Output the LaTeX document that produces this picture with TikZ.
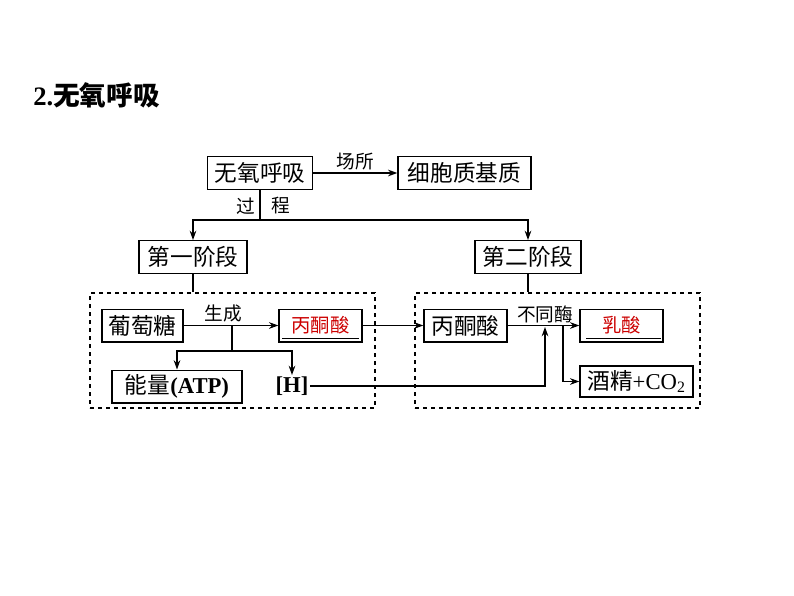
\documentclass[tikz,border=0pt]{standalone}
\usepackage{fontspec}
\setmainfont{Liberation Serif}
\newfontfamily\cjk{Noto Sans CJK SC}
\usetikzlibrary{arrows.meta,positioning}
\definecolor{acidred}{RGB}{204,0,0}

\begin{document}
\begin{tikzpicture}[x=0.75pt,y=-0.75pt,>={Stealth[length=7pt,width=5pt]},
    box/.style={draw,line width=1pt,inner sep=0pt,minimum height=24.5pt,font=\fontsize{17}{20}\selectfont},
    redbox/.style={box,text=acidred,font=\cjk\fontsize{14.5}{17}\selectfont},
    grpbox/.style={draw,dashed,line width=0.9pt,minimum width=213.75pt,minimum height=86.25pt},
    lbl/.style={font=\cjk\fontsize{14}{17}\selectfont,inner sep=1pt},
    link/.style={line width=0.9pt}]
    \useasboundingbox (0,0) rectangle (794,596);

    % Title
    \node[anchor=west,inner sep=0pt,font=\fontsize{20}{24}\selectfont] (title) at (33,95) {\textbf{2.}{\cjk\bfseries 无氧呼吸}};

    % Top row
    \node[box,minimum width=78.75pt] (anaer) at (260,173) {\cjk 无氧呼吸};
    \node[box,minimum width=99.75pt] (site) at (464.5,173) {\cjk 细胞质基质};
    \draw[link,->] (anaer) -- node[lbl,above=1pt] {场所} (site);

    % Stages
    \node[box,minimum width=81pt] (stage1) at (193,257) {\cjk 第一阶段};
    \node[box,minimum width=79.5pt] (stage2) at (528,257) {\cjk 第二阶段};
    \coordinate (split) at (260,220);
    \draw[link] (anaer) -- (split);
    \draw[link,->] (split) -| (stage1);
    \draw[link,->] (split) -| (stage2);
    \node[lbl] (guo) at (246,206) {过};
    \node[lbl] (cheng) at (281,206) {程};

    % Dashed groups
    \node[grpbox] (grp1) at (232.5,350.5) {};
    \node[grpbox] (grp2) at (557.5,350.5) {};
    \draw[link] (stage1) -- (stage1 |- grp1.north);
    \draw[link] (stage2) -- (stage2 |- grp2.north);

    % First stage
    \node[box,minimum width=60.75pt] (gluc) at (142.5,325.5) {\cjk 葡萄糖};
    \node[redbox,minimum width=62.25pt] (pyrA) at (320.5,325.5) {丙酮酸};
    \draw[line width=0.9pt] ([xshift=3pt,yshift=3pt]pyrA.south west) -- ([xshift=-3pt,yshift=3pt]pyrA.south east);
    \draw[link,->] (gluc) -- (pyrA);
    \node[lbl] (make) at (223,313) {生成};
    \node[box,minimum width=97.5pt] (atp) at (177,386.5) {{\cjk 能量}\textbf{(ATP)}};
    \node[inner sep=1pt,font=\fontsize{17}{20}\selectfont\bfseries] (hh) at (292,386) {[H]};
    \coordinate (b1) at (232,351);
    \draw[link] (b1 |- gluc) -- (b1);
    \draw[link,->] (b1) -| (atp);
    \draw[link,->] (b1) -| (hh);

    % Second stage
    \node[box,minimum width=62.25pt] (pyrB) at (465.5,325.5) {\cjk 丙酮酸};
    \node[redbox,minimum width=62.25pt] (lac) at (621.5,325.5) {乳酸};
    \draw[line width=0.9pt] ([xshift=5pt,yshift=3pt]lac.south west) -- ([xshift=-2pt,yshift=3pt]lac.south east);
    \node[box,minimum width=84.75pt,minimum height=23.25pt] (eth) at (636.5,381.5) {{\cjk 酒精}+CO\textsubscript{2}};
    \draw[link,->] (pyrA) -- (pyrB);
    \draw[link,->] (pyrB) -- (lac);
    \node[lbl] (enz) at (545,314) {不同酶};
    \coordinate (b2) at (563,381.5);
    \draw[link,->] (b2 |- lac) -- (b2) -- (eth);
    \coordinate (mix) at (545,327);
    \draw[link,->] (hh) -| (mix);

\end{tikzpicture}
\end{document}
